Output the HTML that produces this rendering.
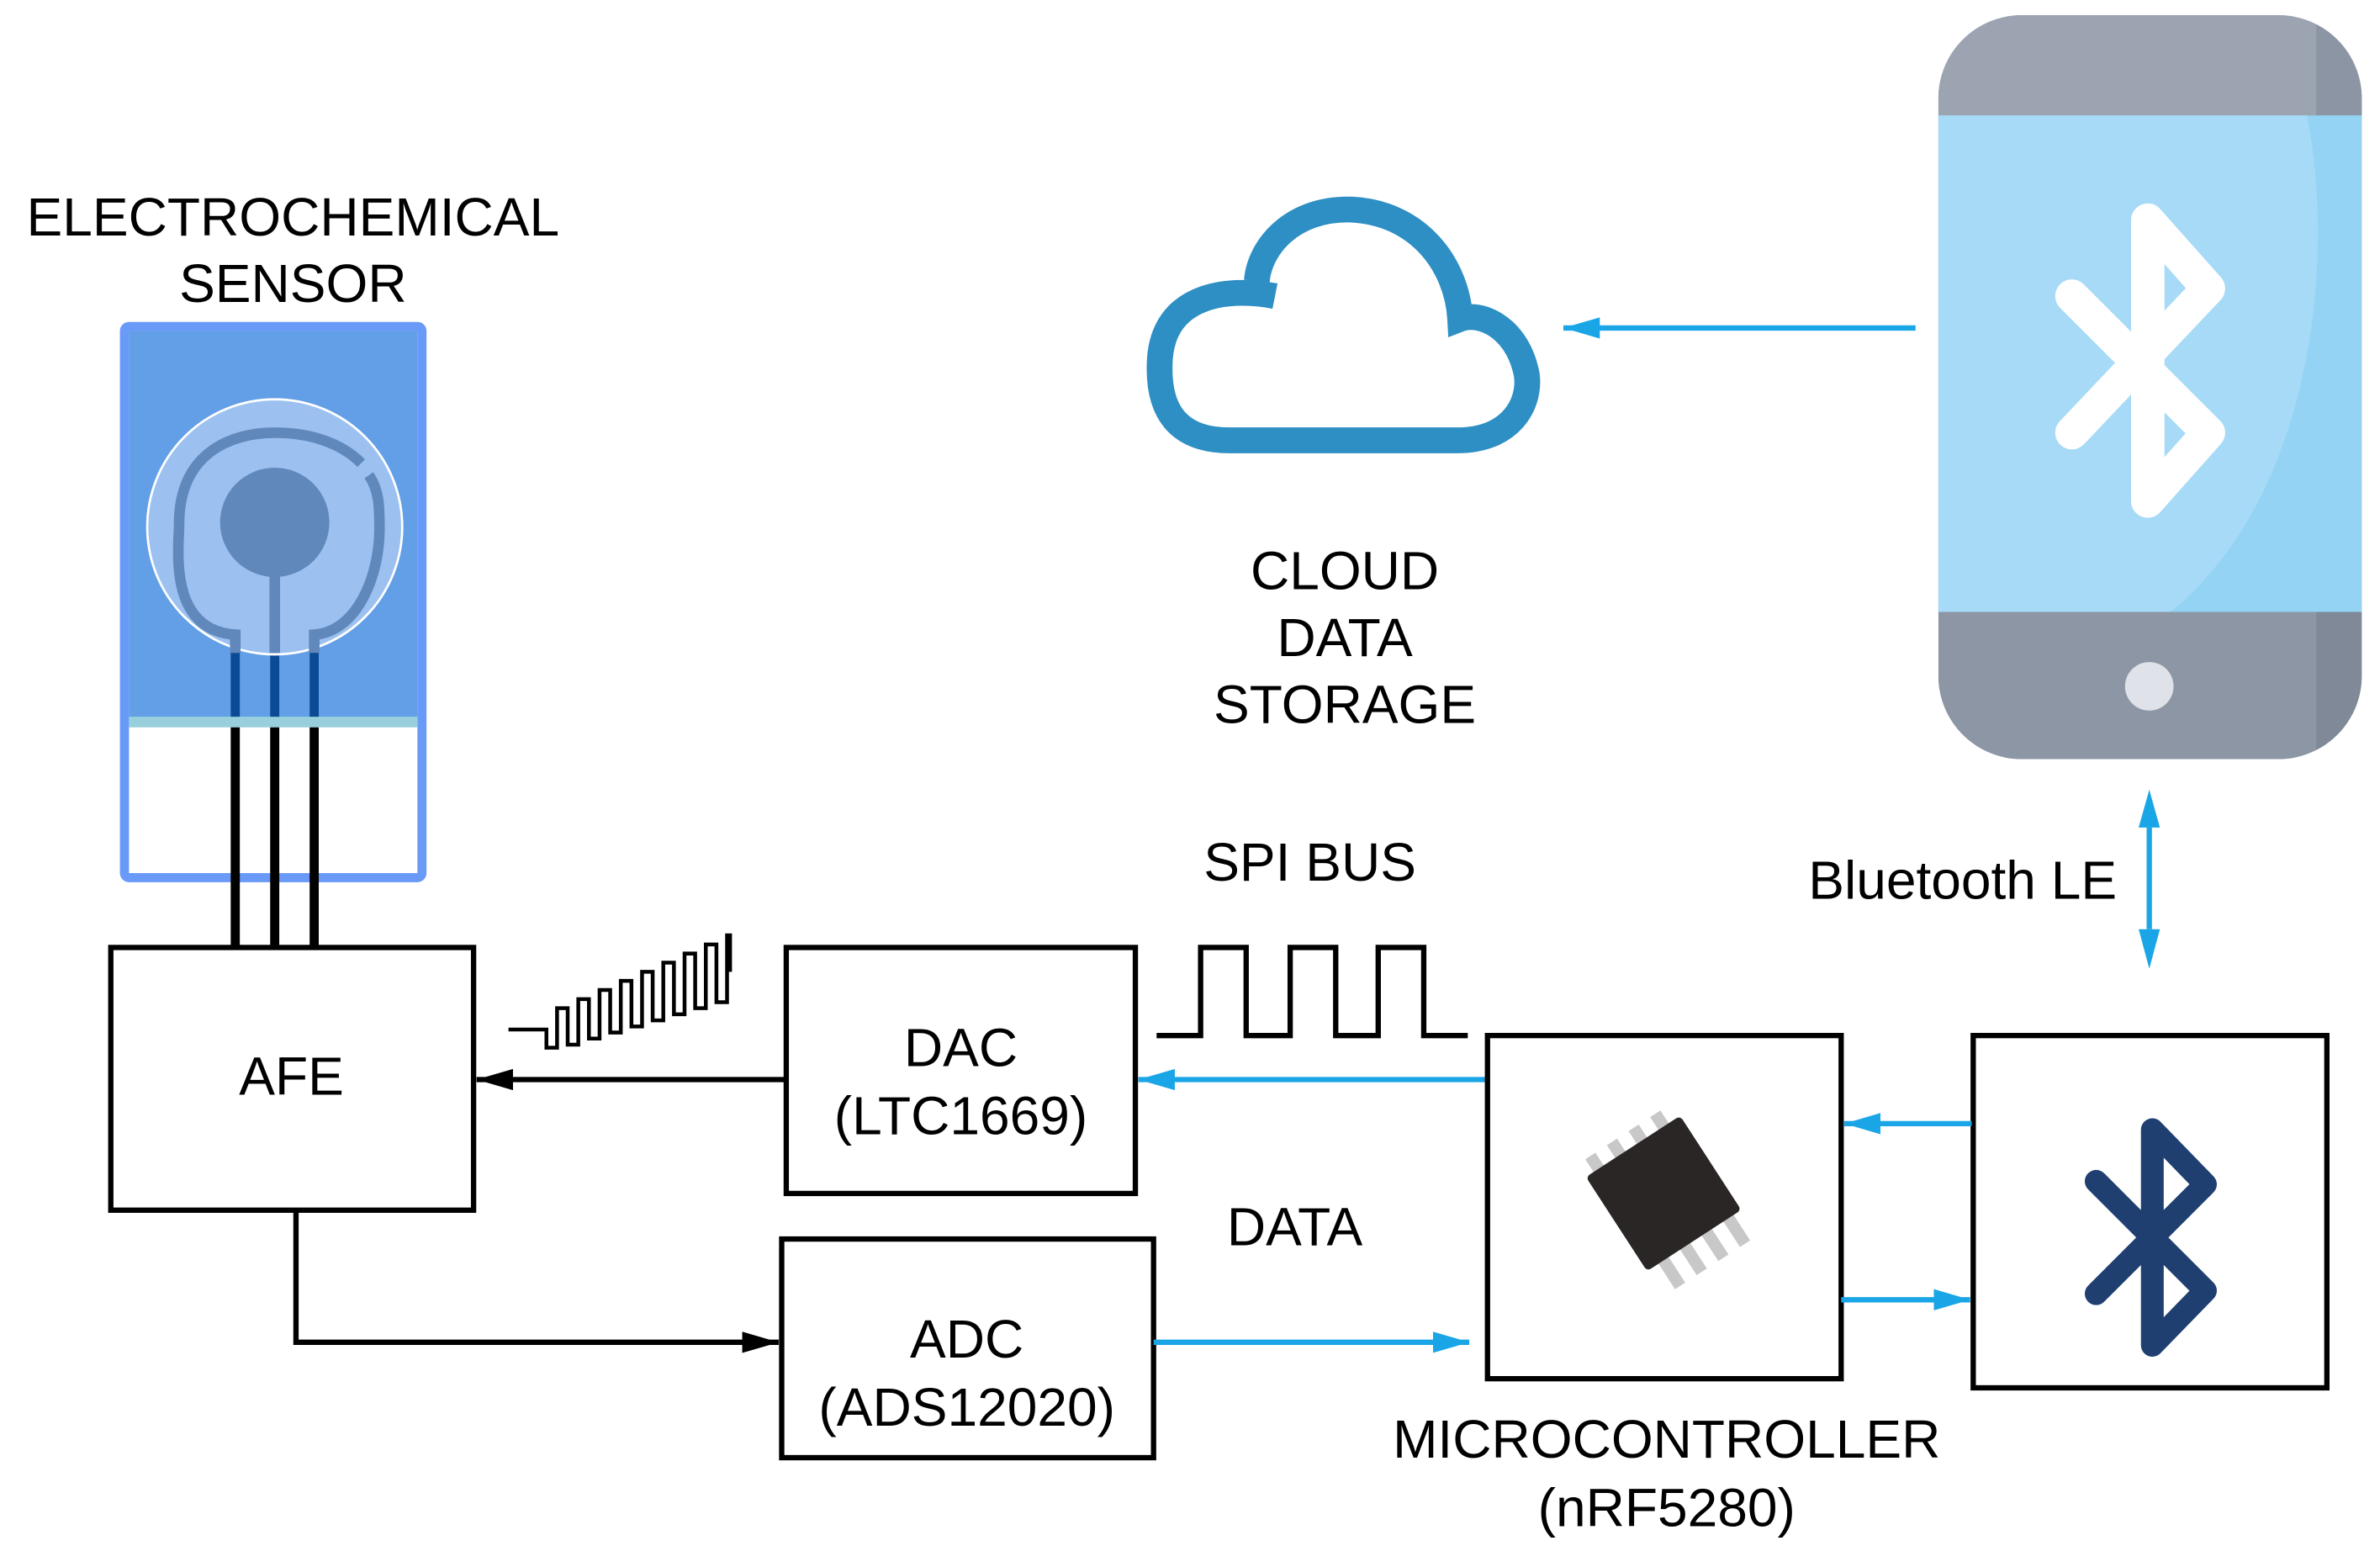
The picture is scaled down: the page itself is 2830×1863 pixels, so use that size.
<!DOCTYPE html>
<html><head><meta charset="utf-8"><style>html,body{margin:0;padding:0;background:#fff}svg{display:block}</style></head>
<body>
<svg width="2830" height="1863" viewBox="0 0 1568 1032" preserveAspectRatio="none" xmlns="http://www.w3.org/2000/svg" font-family="Liberation Sans, sans-serif" font-size="35.5" fill="#000">
<defs>
<marker id="ac" markerWidth="24" markerHeight="14" refX="24" refY="7" orient="auto" markerUnits="userSpaceOnUse"><path d="M0,0 L24,7 L0,14z" fill="#1aa6e6"/></marker>
<marker id="ak" markerWidth="24" markerHeight="14" refX="24" refY="7" orient="auto" markerUnits="userSpaceOnUse"><path d="M0,0 L24,7 L0,14z" fill="#000"/></marker>
</defs>
<!-- sensor -->
<text x="193" y="155" text-anchor="middle">ELECTROCHEMICAL</text>
<text x="193" y="199" text-anchor="middle">SENSOR</text>
<rect x="82" y="215" width="196" height="363" rx="3" fill="#fff" stroke="#6a9af8" stroke-width="6"/>
<rect x="85" y="218" width="190" height="255" fill="#629fe6"/>
<rect x="85" y="472" width="190" height="7" fill="#98cfdc"/>
<line x1="155" y1="420" x2="155" y2="472" stroke="#0b4a94" stroke-width="6"/>
<line x1="181" y1="420" x2="181" y2="472" stroke="#0b4a94" stroke-width="6"/>
<line x1="207" y1="420" x2="207" y2="472" stroke="#0b4a94" stroke-width="6"/>
<line x1="155" y1="479" x2="155" y2="625" stroke="#000" stroke-width="6"/>
<line x1="181" y1="479" x2="181" y2="625" stroke="#000" stroke-width="6"/>
<line x1="207" y1="479" x2="207" y2="625" stroke="#000" stroke-width="6"/>
<ellipse cx="181" cy="347" rx="84" ry="84" fill="#9cc1f0" stroke="#fff" stroke-width="1.5"/>
<path d="M155,430 L155,418 C110,415 118,360 118,345 C118,300 150,285 181,285 C205,285 225,292 238,305 M243,313 C250,323 250,335 250,348 C250,380 235,416 207,418 L207,430" fill="none" stroke="#6188bb" stroke-width="7"/>
<circle cx="181" cy="344" r="36" fill="#6188bb"/>
<line x1="181" y1="375" x2="181" y2="430" stroke="#6188bb" stroke-width="7"/>
<!-- AFE -->
<rect x="73" y="624" width="239" height="173" fill="#fff" stroke="#000" stroke-width="3.5"/>
<text x="192" y="721" text-anchor="middle">AFE</text>
<path d="M335,678 L360,678 L360,690 L367,690 L367,664 L374,664 L374,688 L381,688 L381,658 L388,658 L388,684 L395,684 L395,652 L402,652 L402,680 L409,680 L409,646 L416,646 L416,676 L423,676 L423,640 L430,640 L430,672 L437,672 L437,634 L444,634 L444,668 L451,668 L451,628 L458,628 L458,664 L465,664 L465,622 L472,622 L472,660 L479,660 L479,616 L481,616 L481,640" fill="none" stroke="#000" stroke-width="2.5"/>
<line x1="517" y1="711" x2="314" y2="711" stroke="#000" stroke-width="3.5" marker-end="url(#ak)"/>
<path d="M195,797 L195,884 L513,884" fill="none" stroke="#000" stroke-width="3.5" marker-end="url(#ak)"/>
<!-- DAC / ADC -->
<rect x="518" y="624" width="230" height="162" fill="#fff" stroke="#000" stroke-width="3.5"/>
<text x="633" y="702" text-anchor="middle">DAC</text>
<text x="633" y="747" text-anchor="middle">(LTC1669)</text>
<rect x="515" y="816" width="245" height="144" fill="#fff" stroke="#000" stroke-width="3.5"/>
<text x="637" y="894" text-anchor="middle">ADC</text>
<text x="637" y="939" text-anchor="middle">(ADS12020)</text>
<text x="863" y="580" text-anchor="middle">SPI BUS</text>
<path d="M762,682 L791,682 L791,624 L821,624 L821,682 L850,682 L850,624 L880,624 L880,682 L908,682 L908,624 L938,624 L938,682 L967,682" fill="none" stroke="#000" stroke-width="3.5"/>
<line x1="982" y1="711" x2="750" y2="711" stroke="#1aa6e6" stroke-width="3.5" marker-end="url(#ac)"/>
<text x="853" y="820" text-anchor="middle">DATA</text>
<line x1="760" y1="884" x2="968" y2="884" stroke="#1aa6e6" stroke-width="3.5" marker-end="url(#ac)"/>
<!-- MCU -->
<rect x="980" y="682" width="233" height="226" fill="#fff" stroke="#000" stroke-width="3.5"/>
<g transform="translate(1096,786) rotate(-33)">
<g fill="#c8c8c8">
<rect x="-31" y="-47" width="8" height="12"/><rect x="-14" y="-47" width="8" height="12"/><rect x="3" y="-47" width="8" height="12"/><rect x="20" y="-47" width="8" height="12"/>
<rect x="-28" y="35" width="8" height="22"/><rect x="-11" y="35" width="8" height="22"/><rect x="6" y="35" width="8" height="22"/><rect x="23" y="35" width="8" height="22"/>
</g>
<rect x="-37" y="-37" width="74" height="74" rx="3" fill="#2b2626"/>
</g>
<text x="1098" y="960" text-anchor="middle">MICROCONTROLLER</text>
<text x="1098" y="1005" text-anchor="middle">(nRF5280)</text>
<!-- BT module -->
<rect x="1300" y="682" width="233" height="232" fill="#fff" stroke="#000" stroke-width="3.5"/>
<path d="M1381,778 L1453,850 L1418,886 L1418,744 L1453,780 L1381,852" fill="none" stroke="#1f3f70" stroke-width="15" stroke-linejoin="round" stroke-linecap="round"/>
<line x1="1299" y1="740" x2="1215" y2="740" stroke="#1aa6e6" stroke-width="3.5" marker-end="url(#ac)"/>
<line x1="1213" y1="856" x2="1298" y2="856" stroke="#1aa6e6" stroke-width="3.5" marker-end="url(#ac)"/>
<text x="1293" y="592" text-anchor="middle">Bluetooth LE</text>
<line x1="1416" y1="545" x2="1416" y2="612" stroke="#1aa6e6" stroke-width="3.5"/>
<path d="M1409,545 L1416,520 L1423,545z M1409,612 L1416,638 L1423,612z" fill="#1aa6e6"/>
<!-- phone -->
<defs><clipPath id="ph"><rect x="1277" y="10" width="279" height="490" rx="55"/></clipPath></defs>
<g clip-path="url(#ph)">
<rect x="1277" y="10" width="279" height="490" fill="#8c96a4"/>
<rect x="1277" y="10" width="279" height="66" fill="#9ca4b1"/>
<rect x="1526" y="10" width="30" height="66" fill="#8c95a3"/>
<rect x="1277" y="76" width="279" height="327" fill="#94d3f3"/>
<path d="M1277,76 L1520,76 C1540,180 1520,330 1430,403 L1277,403z" fill="#a6daf6"/>
<rect x="1526" y="403" width="30" height="100" fill="#7f8998"/>
<circle cx="1416" cy="452" r="16" fill="#dfe2e8"/>
</g>
<path d="M1365,195 L1455,285 L1415,330 L1415,145 L1455,190 L1365,285" fill="none" stroke="#fff" stroke-width="22" stroke-linejoin="round" stroke-linecap="round"/>
<!-- cloud -->
<line x1="1262" y1="216" x2="1030" y2="216" stroke="#1aa6e6" stroke-width="3.5" marker-end="url(#ac)"/>
<path d="M840,195 C815,190 765,190 764,240 C763,275 780,290 810,290 L960,290 C1000,290 1010,260 1005,243 C998,215 975,205 962,210 C960,175 935,140 890,138 C852,137 830,162 828,185" fill="none" stroke="#2d8fc4" stroke-width="17" stroke-linecap="butt"/>
<text x="886" y="388" text-anchor="middle">CLOUD</text>
<text x="886" y="432" text-anchor="middle">DATA</text>
<text x="886" y="476" text-anchor="middle">STORAGE</text>
</svg>
</body></html>
